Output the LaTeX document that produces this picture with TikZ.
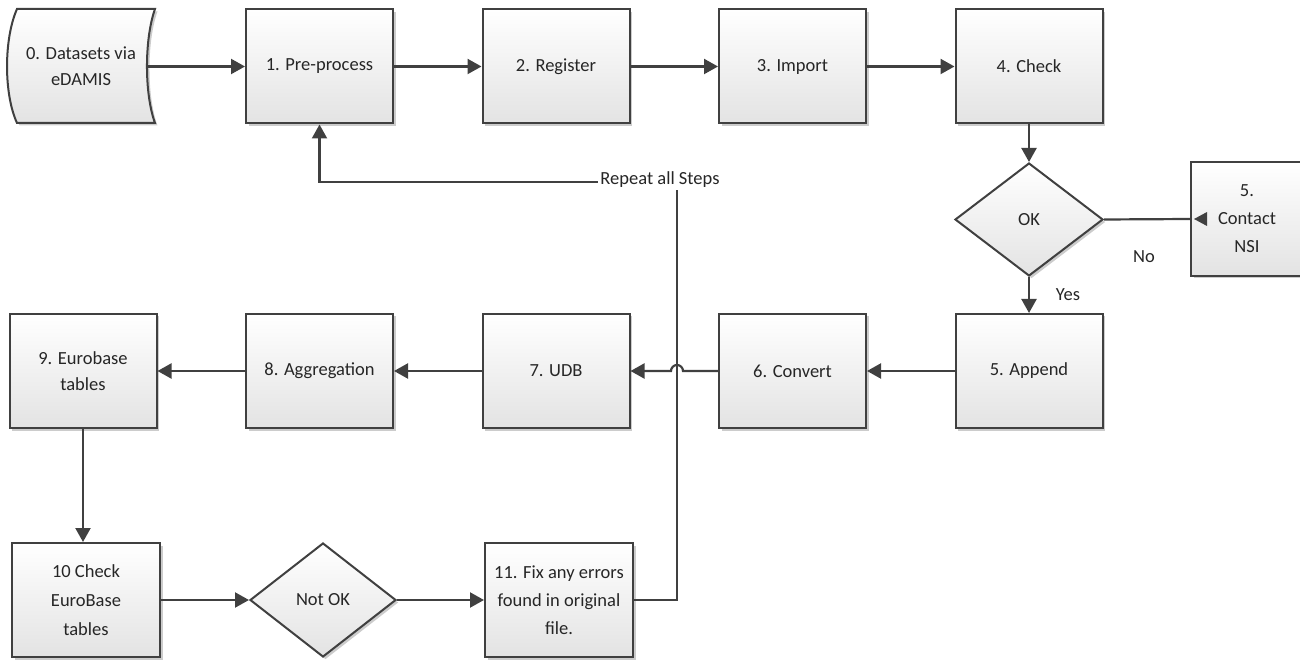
\documentclass[tikz,border=0pt]{standalone}
\usepackage{fontspec}
\setmainfont{Carlito}
\usetikzlibrary{shapes.geometric,arrows.meta,shadows}
\definecolor{ln}{HTML}{404040}
\definecolor{tx}{HTML}{262626}
\begin{document}
\begin{tikzpicture}[x=1pt,y=1pt,
 shade2/.style={draw=ln, line width=2pt, top color=white, bottom color=black!11,
   drop shadow={shadow xshift=2.5pt,shadow yshift=-2.5pt,opacity=0.2,fill=black}},
 base/.style={shade2, text=tx, font=\fontsize{18.5}{26}\selectfont, align=center, inner sep=0pt},
 box/.style={base, rectangle, minimum width=147pt, minimum height=114pt},
 dec/.style={base, diamond, minimum width=148pt, minimum height=113pt},
 conn/.style={draw=ln, line width=2.2pt, -{Triangle[length=14pt,width=15pt]}},
 plain/.style={draw=ln, line width=2.2pt},
 lbl/.style={text=tx, font=\fontsize{18.5}{26}\selectfont, inner sep=1pt}]
\useasboundingbox (0,0) rectangle (1300,659);

% stored data shape
\path[shade2] (17,650) -- (155,650) .. controls (144.3,620) and (144.3,565) .. (155,536)
  -- (17,536) .. controls (3.7,565) and (3.7,620) .. (17,650) -- cycle;
\node[lbl, align=center, minimum width=132pt, inner sep=0pt] (d0) at (81,592.5) {0. Datasets via\\eDAMIS};

\node[box] (b1) at (319.5,592.5) {1. Pre-process};
\node[box] (b2) at (556,592.5) {2. Register};
\node[box] (b3) at (792.5,592.5) {3. Import};
\node[box] (b4) at (1029,592.5) {4. Check};
\node[dec] (ok) at (1029,439.5) {OK};
\node[box, minimum width=112pt, font=\fontsize{18.5}{28}\selectfont] (nsi) at (1247,440) {5.\\Contact\\NSI};
\node[box] (b5) at (1029,288) {5. Append};
\node[box] (b6) at (792.5,288) {6. Convert};
\node[box] (b7) at (556,288) {7. UDB};
\node[box] (b8) at (319.5,288) {8. Aggregation};
\node[box] (b9) at (83,288) {9. Eurobase\\tables};
\node[box, minimum width=148pt, font=\fontsize{18.5}{29}\selectfont] (b10) at (86,59) {10 Check\\EuroBase\\tables};
\node[dec, minimum width=146pt, minimum height=114pt] (nok) at (323,59) {Not OK};
\node[box, minimum width=148pt, font=\fontsize{18.5}{28}\selectfont] (b11) at (559,59) {11. Fix any errors\\found in original\\file.};

\coordinate (rp) at (677,477);

\draw[conn] (d0.east) -- (b1.west);
\draw[conn] (b1) -- (b2);
\draw[conn] (b2) -- (b3);
\draw[conn] (b3) -- (b4);
\draw[conn] (b4) -- (ok);
\draw[conn] (ok) -- (b5);
\draw[plain] (ok.east) -- (nsi.west);
\fill[ln] ([xshift=4pt]nsi.west) -- ++(13pt,7pt) -- ++(0pt,-14pt) -- cycle;
\draw[conn] (b5) -- (b6);
\draw[conn] (b6.west) -- (683,288) arc[start angle=0,end angle=180,radius=6pt] -- (b7.east);
\draw[conn] (b7) -- (b8);
\draw[conn] (b8) -- (b9);
\draw[conn] (b9.south) -- (b9.south |- b10.north);
\draw[conn] (b10) -- (nok);
\draw[conn] (nok) -- (b11);
\draw[conn] (b11.east) -| (rp) -| (b1.south);
\node[lbl, fill=white, inner sep=2pt] (rl) at (660,479) {Repeat all Steps};

\node[lbl] (yes) at (1068,364) {Yes};
\node[lbl] (no) at (1144,402) {No};
\end{tikzpicture}
\end{document}
